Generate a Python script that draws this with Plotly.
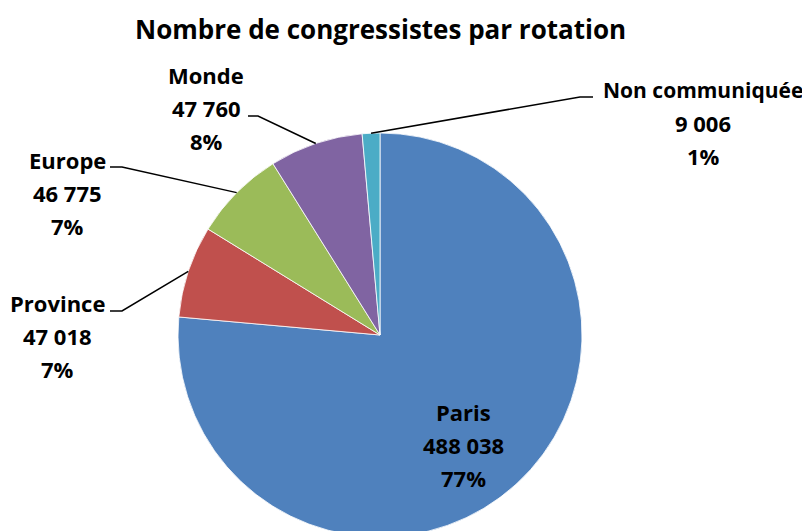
import math
import plotly.graph_objects as go

# ---- data ----
categories = ["Paris", "Province", "Europe", "Monde", "Non communiquée"]
values = [488038, 47018, 46775, 47760, 9006]
value_labels = ["488 038", "47 018", "46 775", "47 760", "9 006"]
percent_labels = ["77%", "7%", "7%", "8%", "1%"]
colors = ["#4F81BD", "#C0504D", "#9BBB59", "#8064A2", "#4BACC6"]
title_text = "Nombre de congressistes par rotation"

# ---- layout geometry (screen pixels) ----
OFF = 8            # page body margin
W, H = 810, 540
CX, CY, R = 380, 335, 202
LINE_GAP = 33
FONT = "Open Sans"

def px(x):
    return (x - OFF) / W

def py(y):
    return 1 - (y - OFF) / H

# label block centers (pixels) and elbow/end points of leader lines
label_pos = {
    "Paris": (463, 445),
    "Province": (57, 336),
    "Europe": (67, 193),
    "Monde": (206, 108),
    "Non communiquée": (703, 123),
}
leader = {
    "Province": [(122, 311), (110, 311)],
    "Europe": [(122, 167), (110, 167)],
    "Monde": [(258, 116), (248, 116)],
    "Non communiquée": [(580, 97), (593, 97)],
}

fig = go.Figure()
fig.add_trace(go.Pie(
    labels=categories,
    values=values,
    sort=False,
    direction="clockwise",
    rotation=0,
    textinfo="none",
    hoverinfo="label+value+percent",
    marker=dict(colors=colors, line=dict(color="white", width=0.8)),
    domain=dict(x=[px(CX - R), px(CX + R)], y=[py(CY + R), py(CY - R)]),
    showlegend=False,
))

total = sum(values)
cum = 0
annotations = []
shapes = []
for cat, v, vl, pl in zip(categories, values, value_labels, percent_labels):
    mid = (cum + v / 2) / total * 2 * math.pi
    cum += v
    lx, ly = label_pos[cat]
    size = 21 if cat == "Non communiquée" else 22
    for k, line in enumerate([cat, vl, pl]):
        annotations.append(dict(
            x=px(lx), y=py(ly + (k - 1) * LINE_GAP), xref="paper", yref="paper",
            text=f"<b>{line}</b>", showarrow=False,
            xanchor="center", yanchor="middle", align="center",
            font=dict(family=FONT, size=size if k == 0 else 22, color="black"),
        ))
    if cat in leader:
        sx = CX + R * math.sin(mid)
        sy = CY - R * math.cos(mid)
        pts = [(sx, sy)] + leader[cat]
        path = "M " + " L ".join(f"{px(a)},{py(b)}" for a, b in pts)
        shapes.append(dict(type="path", path=path, xref="paper", yref="paper",
                           line=dict(color="black", width=1.5)))

annotations.append(dict(
    x=px(380), y=py(29), xref="paper", yref="paper",
    text=f"<b>{title_text}</b>", showarrow=False,
    xanchor="center", yanchor="middle",
    font=dict(family=FONT, size=26, color="black"),
))

fig.update_layout(
    width=W, height=H,
    margin=dict(l=0, r=0, t=0, b=0),
    paper_bgcolor="white", plot_bgcolor="white",
    annotations=annotations, shapes=shapes,
)

fig.write_html("out.html")
